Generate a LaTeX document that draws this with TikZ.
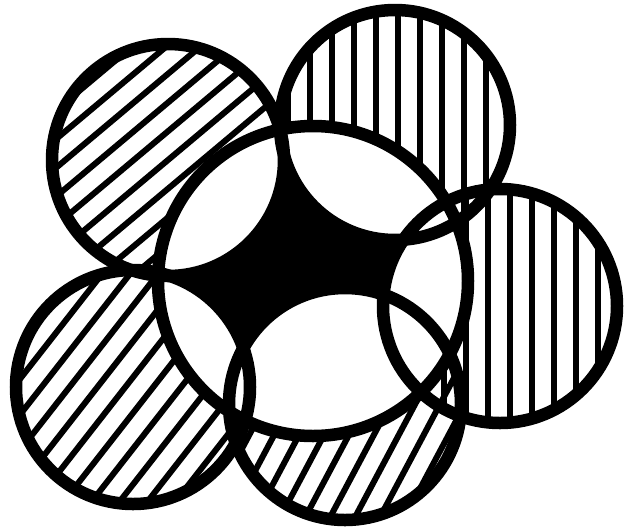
\documentclass[tikz,border=0pt]{standalone}
\begin{document}
\begin{tikzpicture}[x=1pt,y=-1pt,
  outline/.style={line width=12.5pt},
  hatchline/.style={line width=6pt}]
\useasboundingbox (0,0) rectangle (624,531);
\fill[white] (0,0) rectangle (624,531);
% centres
\coordinate (c)  at (313,281);
\coordinate (o1) at (168,160);
\coordinate (o2) at (395,125);
\coordinate (o3) at (500,306);
\coordinate (o4) at (345,404);
\coordinate (o5) at (133,387);
% core
\fill[black] (c) circle[radius=155pt];
% strands white
\fill[white] (o1) circle[radius=116pt];
\fill[white] (o2) circle[radius=115pt];
\fill[white] (o3) circle[radius=117pt];
\fill[white] (o4) circle[radius=116pt];
\fill[white] (o5) circle[radius=117pt];
% hatching outside core
\foreach \o/\r/\a/\s/\ph in {o1/116/40/22/0, o2/115/90/22/-3, o3/117/90/22/12, o4/116/62/22/4, o5/117/52/22/6}{
  \begin{scope}[even odd rule]
    \clip (\o) circle[radius=\r pt];
    \clip (-20,-20) rectangle (650,560) (c) circle[radius=155pt];
    \begin{scope}[shift={(\o)}, rotate=\a]
      \foreach \k in {-7,...,7}
        \draw[hatchline] (-140pt,\k*\s pt+\ph pt) -- (140pt,\k*\s pt+\ph pt);
    \end{scope}
  \end{scope}
}
% outlines
\draw[outline] (c)  circle[radius=155pt];
\draw[outline] (o1) circle[radius=116pt];
\draw[outline] (o2) circle[radius=115pt];
\draw[outline] (o3) circle[radius=117pt];
\draw[outline] (o4) circle[radius=116pt];
\draw[outline] (o5) circle[radius=117pt];
\end{tikzpicture}
\end{document}
